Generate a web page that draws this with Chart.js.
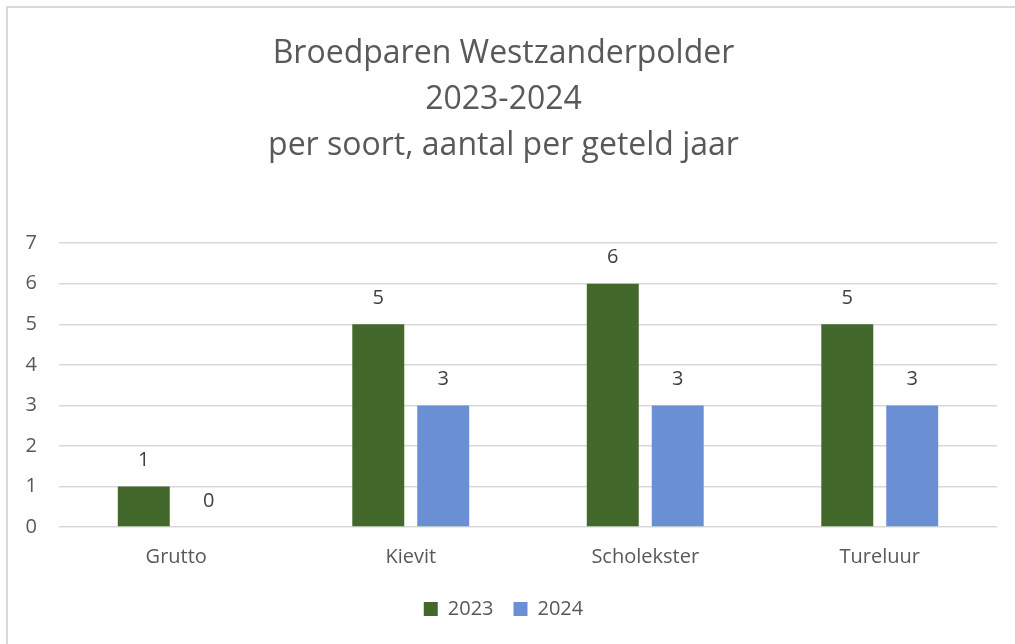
<!DOCTYPE html>
<html>
<head>
<meta charset="utf-8">
<script src="https://cdn.jsdelivr.net/npm/chart.js@4.4.1/dist/chart.umd.min.js"></script>
<style>
  html, body { margin: 0; padding: 0; background: #fff; }
  #wrap { position: relative; width: 1015px; height: 644px; }
  #frame { position: absolute; left: 6px; top: 6px; right: 0; bottom: 0;
           border-left: 2px solid #d9d9d9; border-top: 2px solid #d9d9d9; }
  canvas { position: absolute; left: 0; top: 0; }
</style>
</head>
<body>
<div id="wrap">
  <div id="frame"></div>
  <canvas id="chart" width="1015" height="644"></canvas>
</div>
<script>
// soorten en aantallen
var soorten = ['Grutto', 'Kievit', 'Scholekster', 'Tureluur'];
var jaar2023 = [1, 5, 6, 5];
var jaar2024 = [0, 3, 3, 3];
var jaren = ['2023', '2024'];
var titel = ['Broedparen Westzanderpolder', '2023-2024', 'per soort, aantal per geteld jaar'];

var fam = 'Open Sans, Calibri, sans-serif';

// simple value labels above each bar
var waardeLabels = {
    id: 'waardeLabels',
    afterDatasetsDraw: function(chart) {
        var ctx = chart.ctx;
        ctx.save();
        ctx.font = '20px ' + fam;
        ctx.fillStyle = '#404040';
        ctx.textAlign = 'center';
        ctx.textBaseline = 'middle';
        chart.data.datasets.forEach(function(ds, i) {
            chart.getDatasetMeta(i).data.forEach(function(bar, j) {
                ctx.fillText(ds.data[j], bar.x, bar.y - 26);
            });
        });
        ctx.restore();
    }
};

var ctx = document.getElementById('chart').getContext('2d');
new Chart(ctx, {
    type: 'bar',
    data: {
        labels: soorten,
        datasets: [{
            label: jaren[0],
            data: jaar2023,
            backgroundColor: '#43682b',
            categoryPercentage: 0.554,
            barPercentage: 0.8
        }, {
            label: jaren[1],
            data: jaar2024,
            backgroundColor: '#6a8fd4',
            categoryPercentage: 0.554,
            barPercentage: 0.8
        }]
    },
    plugins: [waardeLabels],
    options: {
        responsive: false,
        animation: false,
        layout: { padding: { left: 10, right: 18, top: 0, bottom: 15 } },
        plugins: {
            title: {
                display: true,
                text: titel,
                color: '#595959',
                font: { family: fam, size: 32, weight: 'normal', lineHeight: 1.44 },
                padding: { top: 31, bottom: 74 }
            },
            legend: {
                position: 'bottom',
                labels: {
                    color: '#595959',
                    font: { family: fam, size: 20 },
                    boxWidth: 14,
                    boxHeight: 14,
                    padding: 20
                }
            },
            tooltip: { enabled: false }
        },
        scales: {
            x: {
                grid: { display: false },
                border: { display: false },
                ticks: { color: '#595959', font: { family: fam, size: 20 }, padding: 10 }
            },
            y: {
                min: 0,
                max: 7,
                ticks: { stepSize: 1, color: '#595959', font: { family: fam, size: 20 }, padding: 22 },
                grid: { color: '#d9d9d9', lineWidth: 1.5, drawTicks: false },
                border: { display: false },
                afterFit: function(scale) { scale.width = 49; }
            }
        }
    }
});
</script>
</body>
</html>
